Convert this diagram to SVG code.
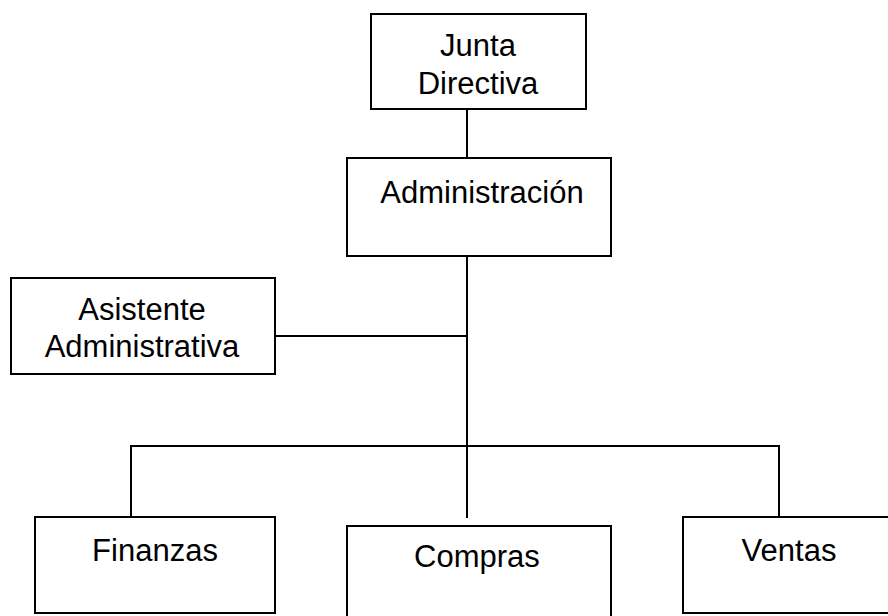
<svg xmlns="http://www.w3.org/2000/svg" width="888" height="616" viewBox="0 0 888 616">
<style>
rect.box{fill:#fff;stroke:#000;stroke-width:2}
text{font-family:"Liberation Sans",Arial,sans-serif;font-size:31px;fill:#000;text-anchor:middle}
.conn line{stroke:#000;stroke-width:2}
</style>
<rect width="888" height="616" fill="#fff"/>
<g class="conn" id="connectors">
<line x1="467" y1="109" x2="467" y2="158"/>
<line x1="467" y1="256" x2="467" y2="518"/>
<line x1="275" y1="336" x2="467" y2="336"/>
<line x1="130" y1="446" x2="780" y2="446"/>
<line x1="131" y1="446" x2="131" y2="517"/>
<line x1="779" y1="446" x2="779" y2="517"/>
</g>
<g id="junta">
<rect class="box" x="371" y="14" width="215" height="95"/>
<text x="478" y="56">Junta</text>
<text x="478" y="94">Directiva</text>
</g>
<g id="administracion">
<rect class="box" x="347" y="158" width="264" height="98"/>
<text x="482" y="203">Administración</text>
</g>
<g id="asistente">
<rect class="box" x="11" y="278" width="264" height="96"/>
<text x="142" y="320">Asistente</text>
<text x="142" y="357">Administrativa</text>
</g>
<g id="finanzas">
<rect class="box" x="35" y="517" width="240" height="96"/>
<text x="155" y="561">Finanzas</text>
</g>
<g id="compras">
<rect class="box" x="347" y="526" width="264" height="96"/>
<text x="477" y="567">Compras</text>
</g>
<g id="ventas">
<rect class="box" x="683" y="517" width="212" height="96"/>
<text x="789" y="561">Ventas</text>
</g>
</svg>
